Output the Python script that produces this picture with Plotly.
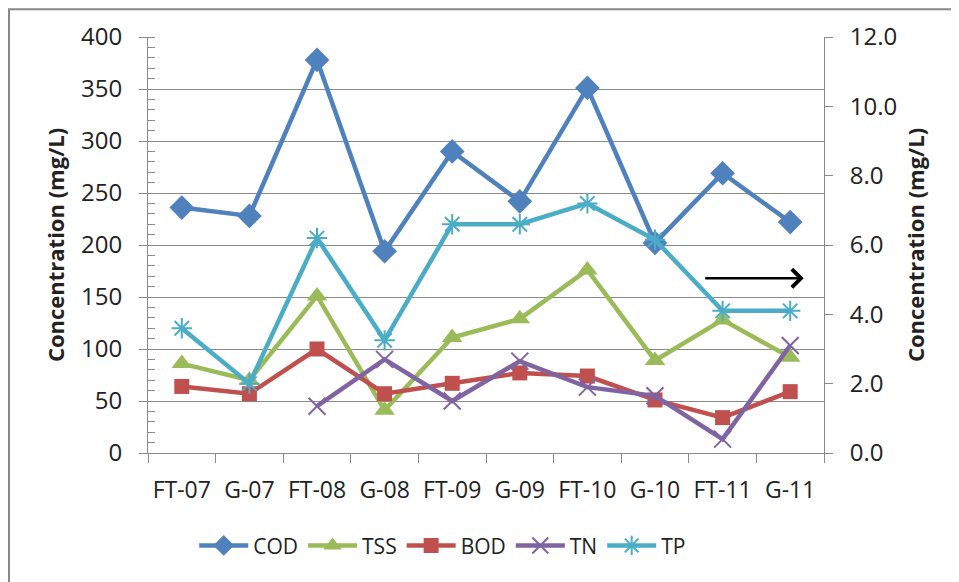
import plotly.graph_objects as go

categories = ["FT-07", "G-07", "FT-08", "G-08", "FT-09", "G-09", "FT-10", "G-10", "FT-11", "G-11"]
cod = [236, 228, 378, 194, 290, 242, 351, 202, 269, 222]
tss = [86, 70, 151, 41, 111, 129, 176, 89, 128, 92]
bod = [64, 57, 100, 57, 67, 77, 74, 51, 34, 59]
tn = [None, None, 1.35, 2.7, 1.5, 2.65, 1.9, 1.65, 0.4, 3.1]
tp = [3.6, 2.0, 6.2, 3.25, 6.6, 6.6, 7.2, 6.15, 4.1, 4.1]

FONT = "Open Sans"
GRID = "#898989"

fig = go.Figure()
fig.add_trace(go.Scatter(x=categories, y=cod, name="COD", mode="lines+markers",
                         line=dict(color="#4F81BD", width=4.5),
                         marker=dict(symbol="diamond", size=19, color="#4F81BD")))
fig.add_trace(go.Scatter(x=categories, y=tss, name="TSS", mode="lines+markers",
                         line=dict(color="#9BBB59", width=4.5),
                         marker=dict(symbol="triangle-up", size=18, color="#9BBB59")))
fig.add_trace(go.Scatter(x=categories, y=bod, name="BOD", mode="lines+markers",
                         line=dict(color="#C0504D", width=4.5),
                         marker=dict(symbol="square", size=15, color="#C0504D")))
fig.add_trace(go.Scatter(x=categories, y=tn, name="TN", mode="lines+markers", yaxis="y2",
                         line=dict(color="#8064A2", width=4.5),
                         marker=dict(symbol="x-thin-open", size=17,
                                     line=dict(color="#8064A2", width=2))))
fig.add_trace(go.Scatter(x=categories, y=tp, name="TP", mode="lines+markers", yaxis="y2",
                         line=dict(color="#4BACC6", width=4.5),
                         marker=dict(symbol="asterisk-open", size=17,
                                     line=dict(color="#4BACC6", width=2))))

fig.update_layout(
    width=951, height=574,
    margin=dict(l=140, r=135, t=29, b=129),
    paper_bgcolor="white", plot_bgcolor="white",
    font=dict(family=FONT, size=24, color="#222222"),
    showlegend=True,
    legend=dict(orientation="h", x=0.436, xanchor="center", y=-0.223, yanchor="middle",
                font=dict(size=21), itemwidth=49, traceorder="normal"),
    xaxis=dict(type="category", showgrid=False, showline=True, linecolor=GRID, linewidth=1,
               ticks="outside", tickson="boundaries", ticklen=9, tickcolor=GRID,
               tickfont=dict(size=23), ticklabelstandoff=16, range=[-0.5, 9.5]),
    yaxis=dict(range=[0, 400], dtick=50, showgrid=True, gridcolor=GRID, gridwidth=1,
               showline=True, linecolor=GRID, ticks="outside", ticklen=8, tickcolor=GRID,
               minor=dict(dtick=10, ticks="inside", ticklen=7, tickcolor=GRID, showgrid=False),
               title=dict(text="<b>Concentration (mg/L)</b>", font=dict(size=22), standoff=10),
               tickfont=dict(size=24), ticklabelstandoff=12, zeroline=False),
    yaxis2=dict(range=[0, 12], dtick=2, tickformat=".1f", overlaying="y", side="right",
                showgrid=False, showline=True, linecolor=GRID, ticks="outside", ticklen=8,
                tickcolor=GRID, tickfont=dict(size=24), ticklabelstandoff=12, zeroline=False,
                title=dict(text="<b>Concentration (mg/L)</b>", font=dict(size=22), standoff=12)),
)

fig.add_annotation(x=9.2, y=168, xref="x", yref="y", ax=7.72, ay=168, axref="x", ayref="y",
                   text="", showarrow=True, arrowhead=4, arrowsize=1.4, arrowwidth=2.5,
                   arrowcolor="black")

# outer chart border
fig.add_shape(type="rect", xref="paper", yref="paper",
              x0=-0.2056, x1=1.22, y0=-0.33, y1=1.067,
              line=dict(color="#888888", width=2), layer="below")

fig.write_html("out.html")
